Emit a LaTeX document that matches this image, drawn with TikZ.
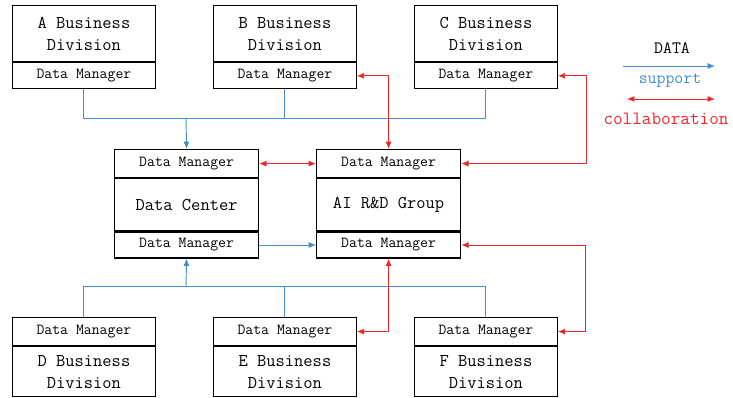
\documentclass[tikz,border=0pt]{standalone}
\usepackage{fontspec}
\usepackage{xcolor}
\usetikzlibrary{positioning,arrows.meta}

\definecolor{supblue}{RGB}{70,140,205}
\definecolor{colred}{RGB}{235,40,40}

\tikzset{
	>={Latex[length=5.5pt,width=4.5pt]},
	unit/.style={draw, line width=0.9pt, minimum width=107pt, inner sep=0pt, align=center},
	titlebox/.style={unit, minimum height=42pt, font=\ttfamily\fontsize{13.5}{16.5}\selectfont},
	dmbox/.style={unit, minimum height=19.5pt, font=\ttfamily\fontsize{11.5}{13}\selectfont},
	supline/.style={supblue, line width=0.7pt},
	collab/.style={colred, line width=0.7pt, <->},
}

\begin{document}
\begin{tikzpicture}[x=0.75pt, y=-0.75pt]
\useasboundingbox (0,0) rectangle (733,397);

\foreach \n/\x in {A/12,B/213,C/414}{
	\node[titlebox, anchor=north west] (\n div) at (\x,5) {\n{} Business\\Division};
	\node[dmbox, below=0pt of \n div] (\n dm) {Data Manager};
}

\foreach \n/\x in {D/12,E/213,F/414}{
	\node[dmbox, anchor=north west, minimum height=21pt] (\n dm) at (\x,317) {Data Manager};
	\node[titlebox, below=0pt of \n dm, minimum height=37.5pt] (\n div) {\n{} Business\\Division};
}

\node[dmbox, anchor=north west, minimum width=108pt, minimum height=21pt] (DCtop) at (114,149) {Data Manager};
\node[titlebox, below=0pt of DCtop, minimum width=108pt, minimum height=39pt] (DC) {Data Center};
\node[dmbox, below=0pt of DC, minimum width=108pt] (DCbot) {Data Manager};

\node[dmbox, anchor=north west, minimum width=108pt, minimum height=21pt] (AItop) at (316,149) {Data Manager};
\node[titlebox, below=0pt of AItop, minimum width=108pt, minimum height=39pt] (AI) {AI R\&D Group};
\node[dmbox, below=0pt of AI, minimum width=108pt] (AIbot) {Data Manager};

% data support
\coordinate (topbus) at (186,118);
\coordinate (botbus) at (186,286);
\foreach \n in {A,B,C}{
	\draw[supline] (\n dm.south) |- (topbus);
}
\foreach \n in {D,E,F}{
	\draw[supline] (\n dm.north) |- (botbus);
}
\draw[supline, ->] (topbus) -- (DCtop.north);
\draw[supline, ->] (botbus) -- (DCbot.south);
\draw[supline, ->] (DCbot.east) -- (AIbot.west);

% collaboration
\draw[collab] (DCtop.east) -- (AItop.west);
\draw[collab] (Bdm.east) -| (AItop.north);
\draw[collab] (Cdm.east) -- ++(29,0) |- (AItop.east);
\draw[collab] (AIbot.south) |- (Edm.east);
\draw[collab] (AIbot.east) -- ++(124,0) |- (Fdm.east);

% legend
\node[font=\ttfamily\fontsize{13}{15}\selectfont] (legdata) at (672,48) {DATA};
\coordinate (supL) at (623,66);
\coordinate (supR) at (715,66);
\draw[supline, ->] (supL) -- (supR);
\node[supblue, font=\ttfamily\fontsize{13}{15}\selectfont] (legsup) at (670,81) {support};
\coordinate (colL) at (627,99);
\coordinate (colR) at (715,99);
\draw[collab] (colL) -- (colR);
\node[colred, font=\ttfamily\fontsize{14}{16}\selectfont] (legcol) at (666,119) {collaboration};

\end{tikzpicture}
\end{document}
